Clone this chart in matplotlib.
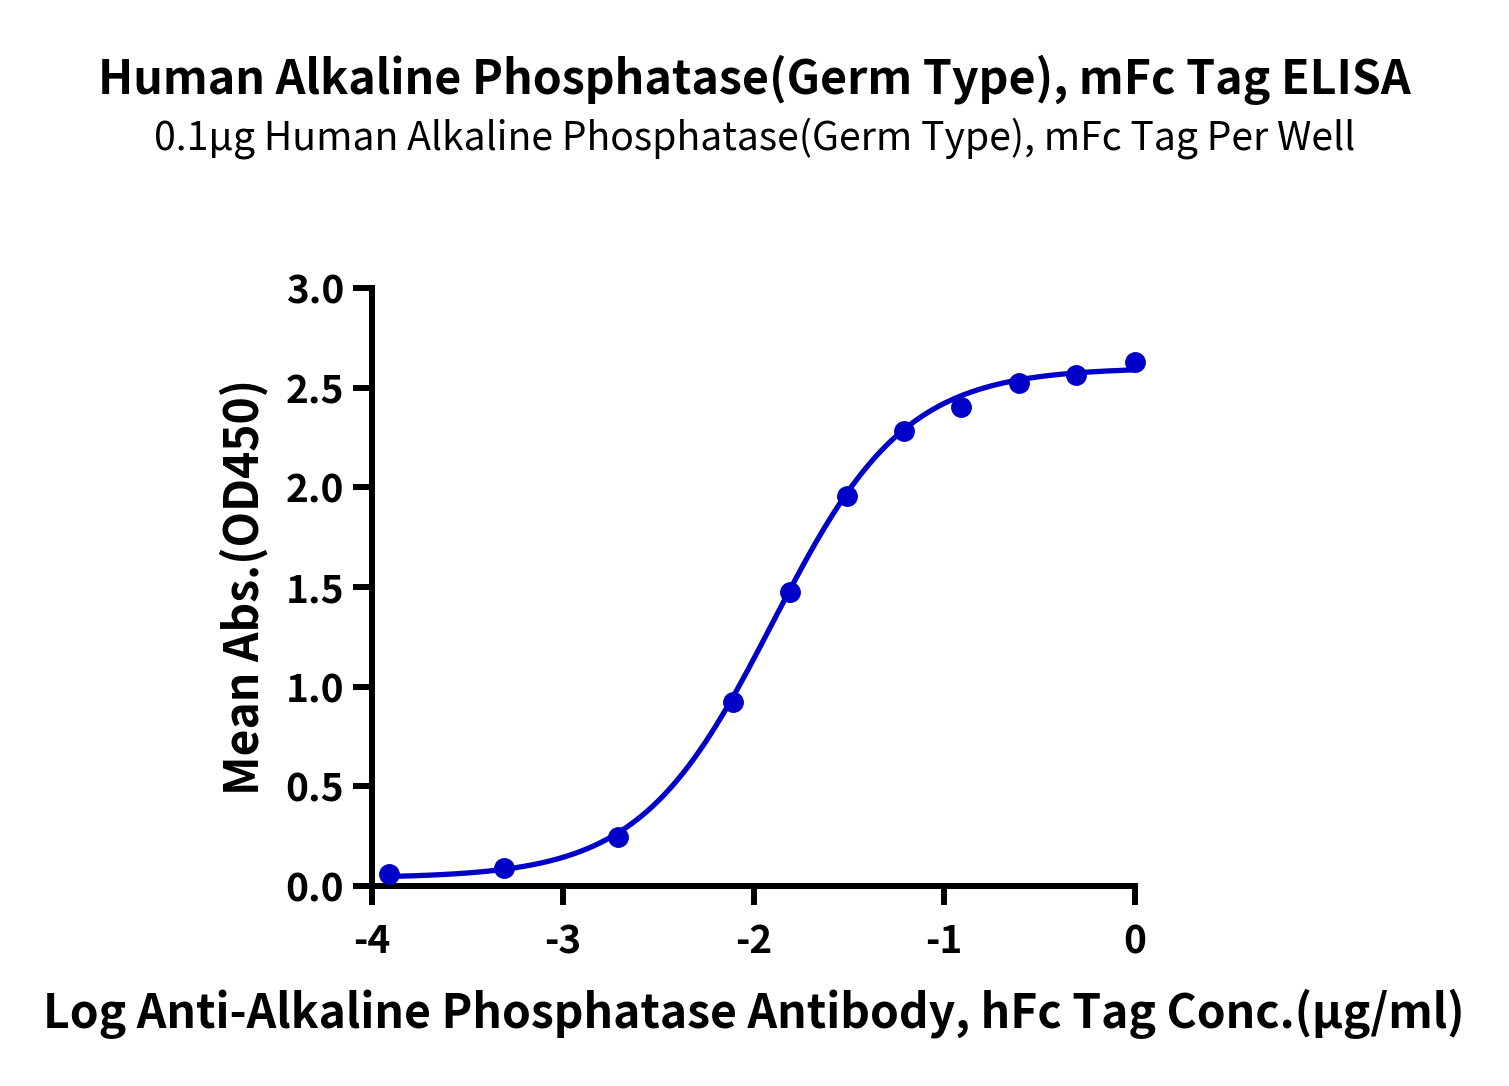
import numpy as np
import matplotlib.pyplot as plt

plt.rcParams['font.family'] = ['Noto Sans CJK SC', 'DejaVu Sans']

# measured points (log conc, mean OD450)
log_conc = [-3.91, -3.31, -2.71, -2.11, -1.81, -1.51, -1.21, -0.91, -0.61, -0.31, 0.0]
mean_abs = [0.06, 0.09, 0.245, 0.925, 1.475, 1.955, 2.285, 2.405, 2.525, 2.565, 2.63]

# 4PL fit parameters
bottom = 0.04
top = 2.60
log_ec50 = -1.90
hill = 1.25

x_ticks = [-4, -3, -2, -1, 0]
y_ticks = [0.0, 0.5, 1.0, 1.5, 2.0, 2.5, 3.0]

COLOR = '#0000C8'

fig = plt.figure(figsize=(15.09, 10.86), dpi=100)
ax = fig.add_axes([372 / 1509, 1 - 886 / 1086, (1135 - 372) / 1509, (886 - 288) / 1086])

xf = np.linspace(min(log_conc), max(log_conc), 400)
yf = bottom + (top - bottom) / (1 + 10 ** ((log_ec50 - xf) * hill))
ax.plot(xf, yf, color=COLOR, lw=3.8, zorder=2)
ax.plot(log_conc, mean_abs, 'o', color=COLOR, ms=14, zorder=3, clip_on=False)

ax.set_xlim(-4, 0)
ax.set_ylim(0, 3.0)
ax.set_xticks(x_ticks)
ax.set_xticklabels([str(t) for t in x_ticks])
ax.set_yticks(y_ticks)
ax.set_yticklabels([f'{t:.1f}' for t in y_ticks])

for s in ['top', 'right']:
    ax.spines[s].set_visible(False)
for s in ['left', 'bottom']:
    ax.spines[s].set_linewidth(4.3)
ax.tick_params(axis='both', width=4.3, length=14, labelsize=28, pad=6)
for lbl in ax.get_xticklabels() + ax.get_yticklabels():
    lbl.set_fontweight('heavy')
ax.tick_params(axis='x', pad=12)

ax.set_xlabel('Log Anti-Alkaline Phosphatase Antibody, hFc Tag Conc.(µg/ml)',
              fontsize=33.3, fontweight='bold', labelpad=20)
ax.set_ylabel('Mean Abs.(OD450)', fontsize=33.3, fontweight='bold', labelpad=12)

fig.text(0.5, 1 - 80 / 1086, 'Human Alkaline Phosphatase(Germ Type), mFc Tag ELISA',
         ha='center', va='center', fontsize=33.5, fontweight='bold')
fig.text(0.5, 1 - 138 / 1086, '0.1µg Human Alkaline Phosphatase(Germ Type), mFc Tag Per Well',
         ha='center', va='center', fontsize=28.2)

fig.savefig('out.png', dpi=100)
